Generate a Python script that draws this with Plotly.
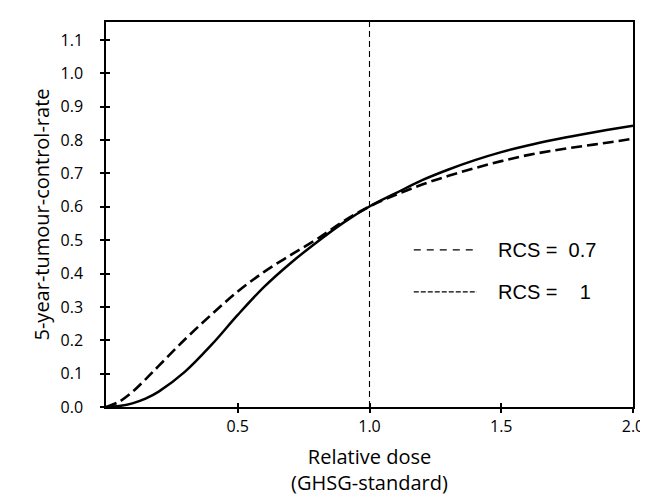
import plotly.graph_objects as go

# ---- data ----
dose = [0.0, 0.05, 0.1, 0.15, 0.2, 0.3, 0.4, 0.5, 0.6, 0.7, 0.8, 0.9, 1.0,
        1.1, 1.2, 1.3, 1.4, 1.5, 1.6, 1.7, 1.8, 1.9, 2.0]
tcr_rcs1 = [0.0, 0.003, 0.011, 0.025, 0.046, 0.106, 0.186, 0.276, 0.360, 0.431, 0.494, 0.552, 0.601,
            0.641, 0.680, 0.712, 0.740, 0.764, 0.784, 0.801, 0.816, 0.830, 0.843]
tcr_rcs07 = [0.0, 0.016, 0.045, 0.083, 0.123, 0.203, 0.277, 0.346, 0.405, 0.455, 0.503, 0.556, 0.601,
             0.636, 0.667, 0.693, 0.716, 0.737, 0.755, 0.769, 0.781, 0.792, 0.804]
ref_dose = [1.0, 1.0]
ref_span = [0.0, 1.16]

x_ticks = [0.5, 1.0, 1.5, 2.0]
x_ticklabels = ["0.5", "1.0", "1.5", "2.0"]
y_ticks = [0.0, 0.1, 0.2, 0.3, 0.4, 0.5, 0.6, 0.7, 0.8, 0.9, 1.0, 1.1]
y_ticklabels = ["0.0", "0.1", "0.2", "0.3", "0.4", "0.5", "0.6", "0.7", "0.8", "0.9", "1.0", "1.1"]
x_range = [0.0, 2.0]
y_range = [0.0, 1.154]

legend_labels = ["RCS = \u00a00.7", "RCS =\u00a0\u00a0\u00a0\u00a01"]

tick_font = dict(family="Open Sans", size=16, color="black")

fig = go.Figure()
fig.add_trace(go.Scatter(x=dose, y=tcr_rcs1, mode="lines", line_shape="spline",
                         line=dict(color="black", width=2.5), showlegend=False))
fig.add_trace(go.Scatter(x=dose, y=tcr_rcs07, mode="lines", line_shape="spline",
                         line=dict(color="black", width=2.6, dash="11px,5px"), showlegend=False))
fig.add_trace(go.Scatter(x=ref_dose, y=ref_span, mode="lines", xaxis="x2", yaxis="y2",
                         line=dict(color="black", width=1.1, dash="6px,4px"), showlegend=False))

# manual legend (line samples + text)
legend_rows = [(0.408, "7px,6px"), (0.299, "5px,2px")]
for (yp, dash), label in zip(legend_rows, legend_labels):
    fig.add_shape(type="line", xref="paper", yref="paper", x0=0.584, x1=0.704, y0=yp, y1=yp,
                  line=dict(color="black", width=1.4, dash=dash))
    fig.add_annotation(xref="paper", yref="paper", x=0.740, y=yp, text=label, showarrow=False,
                       xanchor="left", yanchor="middle",
                       font=dict(family="Liberation Sans", size=20, color="black"))

axis_common = dict(showgrid=False, zeroline=False, showline=True, linecolor="black",
                   linewidth=1.5, mirror=True, ticks="outside", ticklen=4, tickwidth=1.5,
                   tickcolor="black", tickfont=tick_font)

fig.update_layout(
    width=648, height=496,
    margin=dict(l=98, r=12, t=14, b=97),
    paper_bgcolor="white", plot_bgcolor="white",
    xaxis=dict(range=x_range, tickvals=x_ticks, ticktext=x_ticklabels,
               title=dict(text="Relative dose<br>(GHSG-standard)",
                          font=dict(family="Open Sans", size=20, color="black"), standoff=14),
               **axis_common),
    yaxis=dict(range=y_range, tickvals=y_ticks, ticktext=y_ticklabels,
               ticklabelstandoff=14,
               title=dict(text="5-year-tumour-control-rate",
                          font=dict(family="Open Sans", size=20, color="black"), standoff=6),
               **axis_common),
    xaxis2=dict(range=x_range, overlaying="x", tickvals=x_ticks, ticks="inside", ticklen=4,
                tickwidth=1.5, tickcolor="black", showticklabels=False, showgrid=False,
                zeroline=False, showline=False),
    yaxis2=dict(range=y_range, overlaying="y", tickvals=y_ticks, ticks="inside", ticklen=4,
                tickwidth=1.5, tickcolor="black", showticklabels=False, showgrid=False,
                zeroline=False, showline=False),
)

fig.write_html("out.html")
